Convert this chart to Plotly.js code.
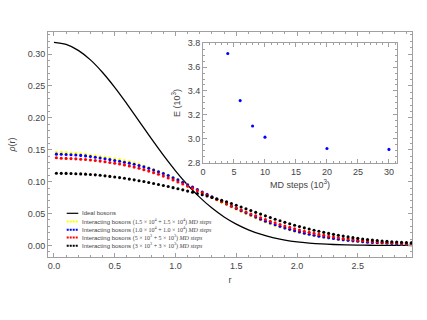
<!DOCTYPE html>
<html>
<head>
<meta charset="utf-8">
<script src="https://cdn.plot.ly/plotly-3.0.1.min.js"></script>
<style>html,body{margin:0;padding:0;background:#fff;}#chart{width:427px;height:320px;}</style>
</head>
<body>
<div id="chart"></div>
<script>
// radial grid of the interacting-boson densities
const r = [0.02,0.06,0.10,0.14,0.18,0.22,0.26,0.30,0.34,0.38,0.42,0.46,0.50,0.54,0.58,0.62,0.66,0.70,0.74,0.78,0.82,0.86,0.90,0.94,0.98,1.02,1.06,1.10,1.14,1.18,1.22,1.26,1.30,1.34,1.38,1.42,1.46,1.50,1.54,1.58,1.62,1.66,1.70,1.74,1.78,1.82,1.86,1.90,1.94,1.98,2.02,2.06,2.10,2.14,2.18,2.22,2.26,2.30,2.34,2.38,2.42,2.46,2.50,2.54,2.58,2.62,2.66,2.70,2.74,2.78,2.82,2.86,2.90,2.94];

const rho15k = [0.1460,0.1460,0.1455,0.1450,0.1445,0.1437,0.1428,0.1418,0.1406,0.1393,0.1383,0.1372,0.1360,0.1346,0.1331,0.1315,0.1297,0.1277,0.1247,0.1222,0.1196,0.1168,0.1138,0.1104,0.1068,0.1032,0.0994,0.0956,0.0917,0.0878,0.0839,0.0791,0.0752,0.0714,0.0677,0.0641,0.0605,0.0570,0.0535,0.0500,0.0466,0.0433,0.0401,0.0370,0.0341,0.0314,0.0289,0.0265,0.0243,0.0222,0.0203,0.0186,0.0170,0.0155,0.0141,0.0128,0.0116,0.0105,0.0095,0.0086,0.0078,0.0070,0.0063,0.0057,0.0051,0.0046,0.0041,0.0037,0.0033,0.0030,0.0027,0.0025,0.0023,0.0021];

const rho10k = [0.1432,0.1430,0.1427,0.1423,0.1418,0.1412,0.1404,0.1395,0.1384,0.1372,0.1359,0.1346,0.1333,0.1320,0.1306,0.1291,0.1274,0.1255,0.1233,0.1209,0.1184,0.1157,0.1128,0.1097,0.1063,0.1028,0.0991,0.0953,0.0915,0.0877,0.0839,0.0801,0.0763,0.0725,0.0688,0.0652,0.0616,0.0581,0.0546,0.0512,0.0478,0.0445,0.0413,0.0382,0.0353,0.0326,0.0300,0.0276,0.0253,0.0232,0.0212,0.0194,0.0177,0.0161,0.0147,0.0134,0.0122,0.0110,0.0100,0.0090,0.0081,0.0073,0.0066,0.0059,0.0053,0.0048,0.0043,0.0039,0.0035,0.0031,0.0028,0.0026,0.0024,0.0022];

const rho5k = [0.1375,0.1368,0.1365,0.1362,0.1358,0.1353,0.1347,0.1340,0.1332,0.1323,0.1313,0.1302,0.1290,0.1277,0.1263,0.1247,0.1229,0.1210,0.1189,0.1166,0.1142,0.1116,0.1088,0.1059,0.1028,0.0996,0.0963,0.0929,0.0895,0.0860,0.0825,0.0790,0.0755,0.0721,0.0687,0.0654,0.0621,0.0589,0.0557,0.0526,0.0495,0.0465,0.0436,0.0408,0.0381,0.0355,0.0330,0.0306,0.0284,0.0263,0.0243,0.0224,0.0206,0.0190,0.0174,0.0160,0.0146,0.0134,0.0122,0.0111,0.0101,0.0092,0.0084,0.0076,0.0069,0.0063,0.0057,0.0052,0.0047,0.0043,0.0039,0.0036,0.0033,0.0031];

const rho3k = [0.1132,0.1131,0.1130,0.1128,0.1125,0.1122,0.1118,0.1113,0.1107,0.1100,0.1092,0.1083,0.1074,0.1064,0.1053,0.1041,0.1029,0.1016,0.1002,0.0988,0.0973,0.0957,0.0941,0.0924,0.0907,0.0890,0.0872,0.0853,0.0834,0.0815,0.0795,0.0775,0.0754,0.0733,0.0710,0.0685,0.0659,0.0632,0.0604,0.0576,0.0548,0.0520,0.0492,0.0465,0.0438,0.0412,0.0387,0.0363,0.0340,0.0318,0.0297,0.0277,0.0258,0.0240,0.0223,0.0206,0.0190,0.0175,0.0161,0.0148,0.0135,0.0123,0.0112,0.0102,0.0093,0.0085,0.0078,0.0071,0.0065,0.0060,0.0055,0.0051,0.0047,0.0044];

// ideal boson density
const rIdeal = [0.0,0.1,0.2,0.3,0.4,0.5,0.6,0.7,0.8,0.9,1.0,1.1,1.2,1.3,1.4,1.5,1.6,1.7,1.8,1.9,2.0,2.1,2.2,2.3,2.4,2.5,2.6,2.7,2.8,2.9,3.0];
const rhoIdeal = [0.3183,0.3151,0.3058,0.2909,0.2712,0.2479,0.2221,0.1950,0.1678,0.1416,0.1171,0.0949,0.0754,0.0587,0.0448,0.0335,0.0246,0.0177,0.0125,0.0086,0.0058,0.0039,0.0025,0.0016,0.0010,0.0006,0.0004,0.0002,0.0001,0.0001,0.0000];

// inset: energy vs MD steps
const mdSteps = [4, 6, 8, 10, 20, 30];
const energy = [3.713, 3.320, 3.108, 3.015, 2.920, 2.913];

const serifOpen = '<span style="font-family:Liberation Serif">';
const seriesNames = ['Ideal bosons',
  'Interacting bosons ' + serifOpen + '(1.5 × 10<sup>4</sup> + 1.5 × 10<sup>4</sup>) <i>MD steps</i></span>',
  'Interacting bosons ' + serifOpen + '(1.0 × 10<sup>4</sup> + 1.0 × 10<sup>4</sup>) <i>MD steps</i></span>',
  'Interacting bosons ' + serifOpen + '(5 × 10<sup>3</sup> + 5 × 10<sup>3</sup>) <i>MD steps</i></span>',
  'Interacting bosons ' + serifOpen + '(3 × 10<sup>3</sup> + 3 × 10<sup>3</sup>) <i>MD steps</i></span>'];
const seriesColors = ['#000000', '#FFFF00', '#0000FF', '#FF0000', '#000000'];

const dotSeries = [rho15k, rho10k, rho5k, rho3k];

const traces = [{
  x: rIdeal, y: rhoIdeal, mode: 'lines', line: {color: '#000', width: 1.3, shape: 'spline'},
  xaxis: 'x', yaxis: 'y', showlegend: false, hoverinfo: 'skip'
}];
dotSeries.forEach((ys, i) => {
  traces.push({x: r, y: ys, mode: 'markers', marker: {color: seriesColors[i + 1], size: 3.1},
    xaxis: 'x', yaxis: 'y', showlegend: false});
});
traces.push({x: mdSteps, y: energy, mode: 'markers', marker: {color: '#0000FF', size: 3.1},
  xaxis: 'x2', yaxis: 'y2', showlegend: false});

const frame = '#a0a0a0';
const fontFam = 'Liberation Sans, Arial, sans-serif';
const tickFont = {family: fontFam, size: 9, color: '#444'};
function ax(extra) {
  return Object.assign({
    showline: true, mirror: 'allticks', linecolor: frame, linewidth: 1,
    ticks: 'inside', ticklen: 4, tickcolor: frame, tickwidth: 1,
    showgrid: false, zeroline: false, tickfont: tickFont, fixedrange: true
  }, extra);
}

// legend rows (paper coords)
const rowY = [0.1942, 0.1578, 0.1213, 0.0867, 0.0502];
const annotations = [];
const shapes = [];
seriesNames.forEach((nm, i) => {
  annotations.push({xref: 'paper', yref: 'paper', x: 0.0879, y: rowY[i], xanchor: 'left', yanchor: 'middle',
    text: nm, showarrow: false, font: {family: fontFam, size: 6, color: '#444'}});
  shapes.push({type: 'line', xref: 'paper', yref: 'paper', x0: 0.0514, x1: 0.0832, y0: rowY[i], y1: rowY[i],
    line: i === 0 ? {color: '#000', width: 1.2} : {color: seriesColors[i], width: 2, dash: '2px,1px'}});
});

const titleFont = {family: fontFam, size: 9, color: '#444'};
const layout = {
  width: 427, height: 320,
  margin: {l: 48, r: 15, t: 32, b: 63},
  paper_bgcolor: '#fff', plot_bgcolor: '#fff',
  showlegend: false,
  xaxis: ax({range: [-0.049, 2.946], dtick: 0.5, tick0: 0, tickformat: '.1f', anchor: 'y',
    minor: {ticks: 'inside', ticklen: 2, dtick: 0.1, tick0: 0, tickcolor: frame},
    title: {text: 'r', font: titleFont, standoff: 6}}),
  yaxis: ax({range: [-0.018, 0.3346], dtick: 0.05, tick0: 0, tickformat: '.2f', anchor: 'x',
    minor: {ticks: 'inside', ticklen: 2, dtick: 0.01, tick0: 0, tickcolor: frame},
    title: {text: '<i>ρ</i>(r)', font: titleFont, standoff: 10}}),
  xaxis2: ax({domain: [0.4258, 0.9588], anchor: 'y2', range: [0, 31.3], dtick: 5, tick0: 0,
    minor: {ticks: 'inside', ticklen: 2, dtick: 1, tick0: 0, tickcolor: frame},
    title: {text: 'MD steps (10<sup>3</sup>)', font: titleFont, standoff: 5}}),
  yaxis2: ax({domain: [0.418, 0.951], anchor: 'x2', range: [2.8, 3.8], dtick: 0.2, tick0: 2.8, tickformat: '.1f',
    minor: {ticks: 'inside', ticklen: 2, dtick: 0.05, tick0: 2.8, tickcolor: frame},
    title: {text: 'E (10<sup>3</sup>)', font: titleFont, standoff: 5}}),
  annotations: annotations,
  shapes: shapes
};

Plotly.newPlot('chart', traces, layout, {displayModeBar: false, staticPlot: true});
</script>
</body>
</html>
